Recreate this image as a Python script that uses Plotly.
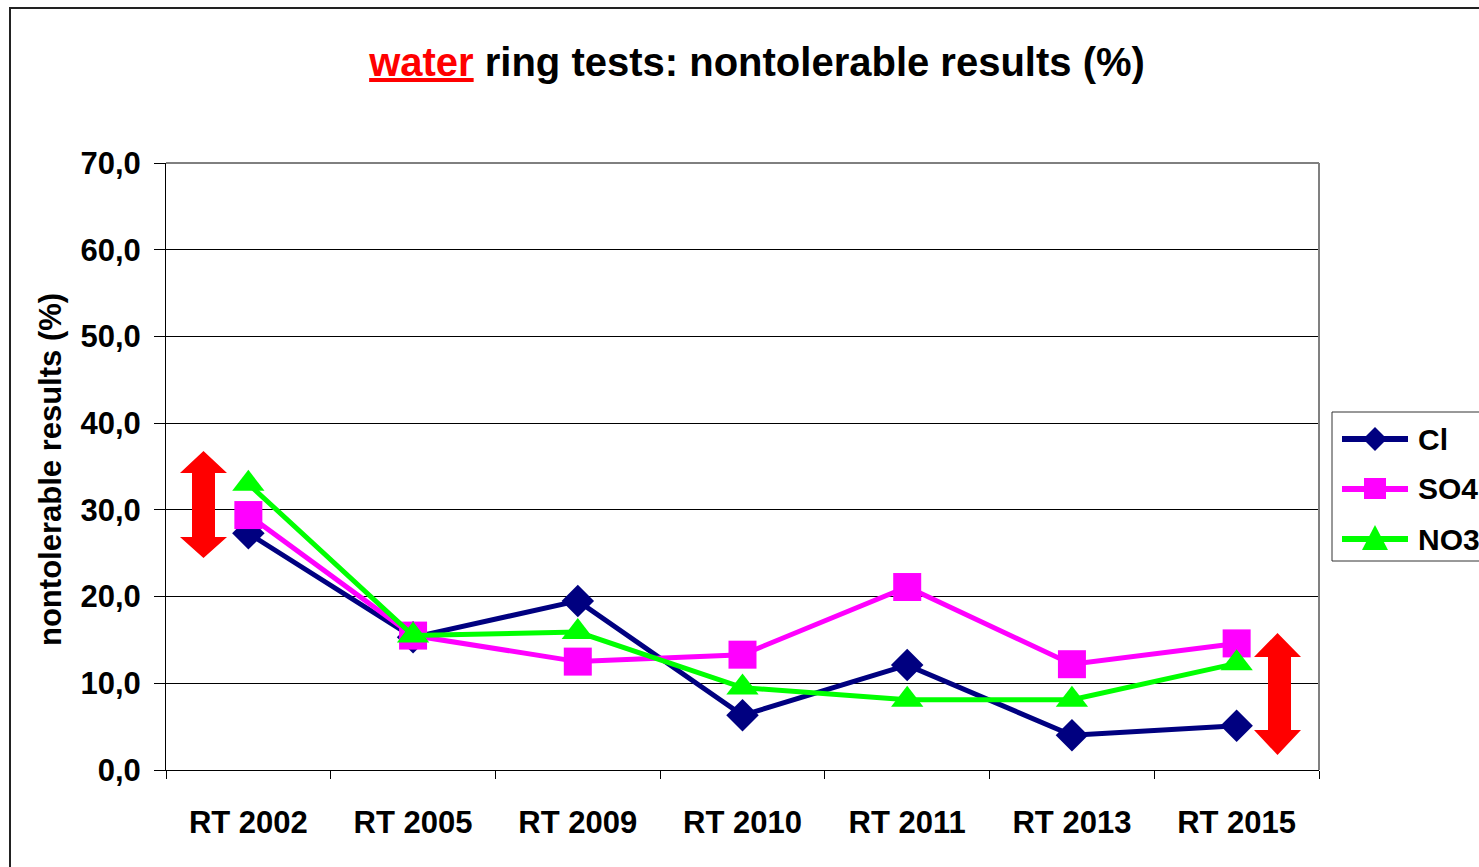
import plotly.graph_objects as go

categories = ["RT 2002", "RT 2005", "RT 2009", "RT 2010", "RT 2011", "RT 2013", "RT 2015"]
cl_values = [27.3, 15.3, 19.5, 6.3, 12.1, 4.0, 5.1]
so4_values = [29.4, 15.5, 12.5, 13.3, 21.1, 12.2, 14.6]
no3_values = [33.0, 15.5, 15.9, 9.5, 8.1, 8.1, 12.3]
series_names = ["Cl", "SO4", "NO3"]
y_ticks = [0, 10, 20, 30, 40, 50, 60, 70]

W, H = 1479, 867
L, R, T, B = 166, 1319, 163, 770
FONT = "Liberation Sans, Arial, sans-serif"
NAVY, MAGENTA, LIME = "#000080", "#FF00FF", "#00FF00"


def px(x):
    return (x - L) / (R - L)


def py(y):
    return (B - y) / (B - T)


def path(pts):
    return "M " + " L ".join(f"{px(a):.5f},{py(b):.5f}" for a, b in pts) + " Z"


fig = go.Figure()
fig.add_trace(go.Scatter(x=categories, y=cl_values, name=series_names[0], mode="lines+markers",
                         line=dict(color=NAVY, width=5),
                         marker=dict(symbol="diamond", size=25, color=NAVY)))
fig.add_trace(go.Scatter(x=categories, y=so4_values, name=series_names[1], mode="lines+markers",
                         line=dict(color=MAGENTA, width=5),
                         marker=dict(symbol="square", size=28, color=MAGENTA)))
fig.add_trace(go.Scatter(x=categories, y=no3_values, name=series_names[2], mode="lines+markers",
                         line=dict(color=LIME, width=5),
                         marker=dict(symbol="triangle-up", size=28, color=LIME)))


def double_arrow(xl, xr, sl, sr, ytop, yhb1, yhb2, ybot):
    xm = (xl + xr) / 2
    return path([(xm, ytop), (xr, yhb1), (sr, yhb1), (sr, yhb2), (xr, yhb2), (xm, ybot),
                 (xl, yhb2), (sl, yhb2), (sl, yhb1), (xl, yhb1)])


shapes = [
    dict(type="path", xref="paper", yref="paper",
         path=double_arrow(180, 227, 192, 215, 451, 473, 537, 558),
         fillcolor="#FF0000", line=dict(width=0)),
    dict(type="path", xref="paper", yref="paper",
         path=double_arrow(1254, 1301, 1268, 1291, 633, 657, 730, 755),
         fillcolor="#FF0000", line=dict(width=0)),
    # outer chart frame
    dict(type="rect", xref="paper", yref="paper",
         x0=px(10), x1=px(1500), y0=py(8), y1=py(900),
         line=dict(color="#222222", width=2), fillcolor="rgba(0,0,0,0)", layer="below"),
    # plot area top gridline / border
    dict(type="line", xref="paper", yref="paper", x0=0, x1=1, y0=1, y1=1,
         line=dict(color="black", width=1)),
    # plot area right border
    dict(type="line", xref="paper", yref="paper", x0=1, x1=1, y0=0, y1=1,
         line=dict(color="#808080", width=2)),
    # legend box
    dict(type="rect", xref="paper", yref="paper",
         x0=px(1332), x1=px(1500), y0=py(412), y1=py(561),
         line=dict(color="#333333", width=1), fillcolor="white"),
]

annotations = [dict(text="<b>nontolerable results (%)</b>", textangle=-90,
                    xref="paper", yref="paper", x=px(50), y=py(470),
                    xanchor="center", yanchor="middle", showarrow=False,
                    font=dict(size=31, family=FONT))]

# legend entries (drawn manually to mimic the long Excel legend keys)
legend_y = [439, 489, 539]
legend_colors = [NAVY, MAGENTA, LIME]
mx = 1375
for name, yy, col in zip(series_names, legend_y, legend_colors):
    shapes.append(dict(type="line", xref="paper", yref="paper",
                       x0=px(1342), x1=px(1408), y0=py(yy), y1=py(yy),
                       line=dict(color=col, width=6)))
    annotations.append(dict(text=f"<b>{name}</b>", xref="paper", yref="paper",
                            x=px(1416), y=py(yy), xanchor="left", yanchor="middle",
                            showarrow=False, font=dict(size=30, family=FONT)))
shapes.append(dict(type="path", xref="paper", yref="paper",
                   path=path([(mx, 427), (mx + 12, 439), (mx, 451), (mx - 12, 439)]),
                   fillcolor=NAVY, line=dict(width=0)))
shapes.append(dict(type="path", xref="paper", yref="paper",
                   path=path([(mx - 11, 478), (mx + 11, 478), (mx + 11, 499), (mx - 11, 499)]),
                   fillcolor=MAGENTA, line=dict(width=0)))
shapes.append(dict(type="path", xref="paper", yref="paper",
                   path=path([(mx, 525), (mx + 13, 550), (mx - 13, 550)]),
                   fillcolor=LIME, line=dict(width=0)))

fig.update_layout(
    width=W, height=H,
    margin=dict(l=L, r=W - R, t=T, b=H - B, autoexpand=False),
    paper_bgcolor="white", plot_bgcolor="white",
    separators=",.",
    font=dict(family=FONT, color="black"),
    title=dict(text="<b><span style='color:#FF0000'><u>water</u></span> ring tests: nontolerable results (%)</b>",
               x=757 / W, xanchor="center", y=1 - 62 / H, yanchor="middle",
               font=dict(size=40, family=FONT)),
    xaxis=dict(type="category", range=[-0.5, 6.5], tickson="boundaries", ticks="outside",
               ticklen=8, tickcolor="black", tickwidth=1, showline=True, linecolor="black",
               linewidth=1, showgrid=False,
               tickfont=dict(size=31, family=FONT, weight="bold"), ticklabelstandoff=25),
    yaxis=dict(range=[0, 70], tickvals=y_ticks, tickformat=".1f", ticks="outside",
               ticklen=11, tickcolor="black", showline=True, linecolor="black",
               linewidth=1, showgrid=True, gridcolor="black", gridwidth=1,
               zeroline=False, tickfont=dict(size=31, family=FONT, weight="bold"),
               ticklabelstandoff=7),
    showlegend=False,
    shapes=shapes,
    annotations=annotations,
)

fig.write_html("out.html", config={"displayModeBar": False},
               post_script="document.body.style.margin='0';")
